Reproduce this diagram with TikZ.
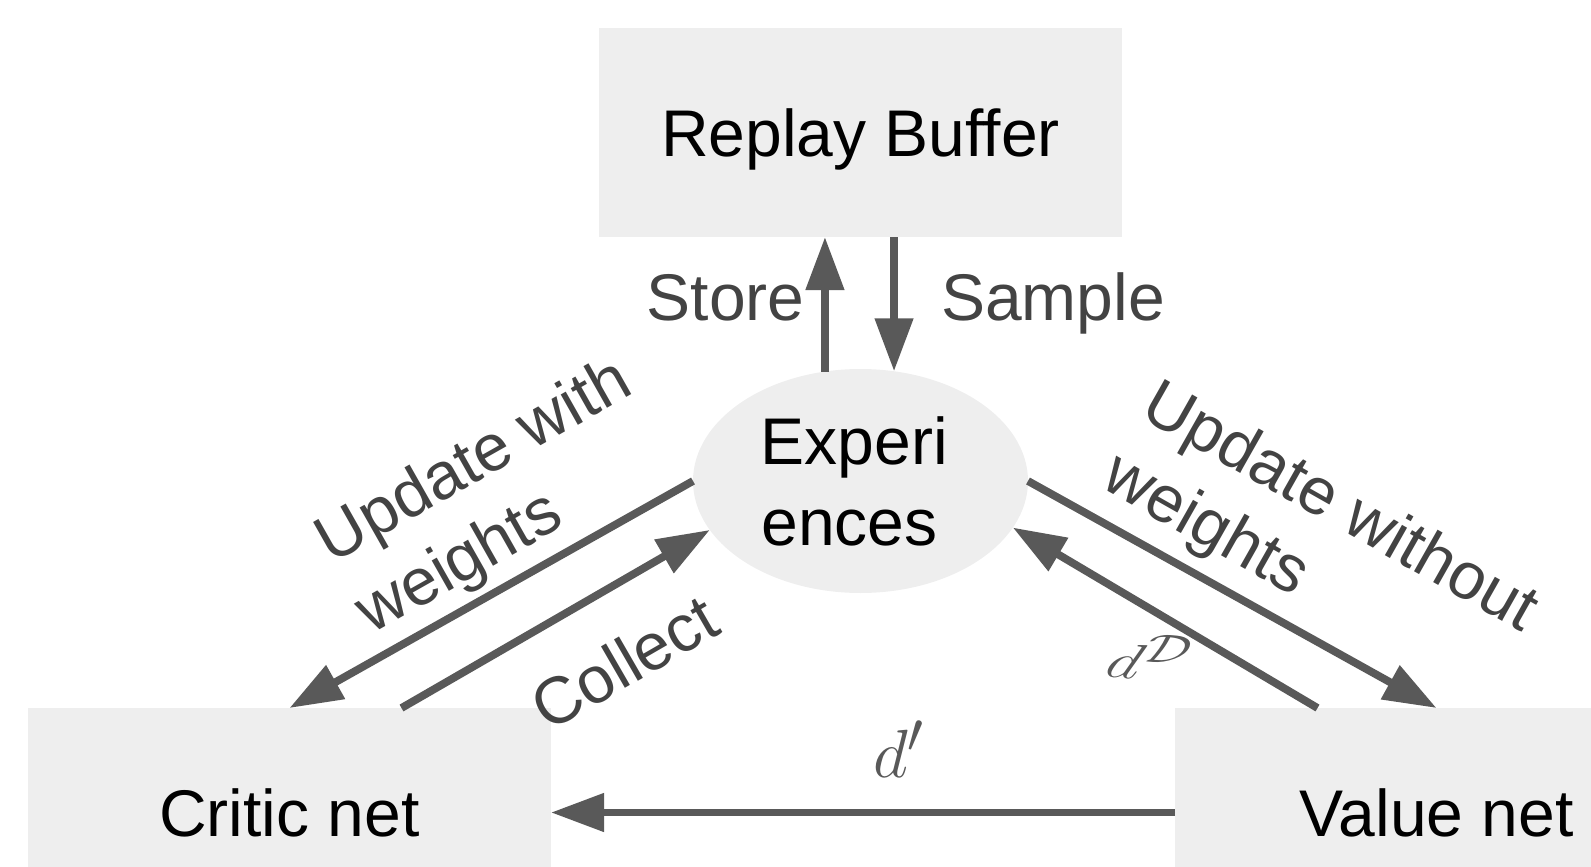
\documentclass[tikz,border=0pt]{standalone}
\usepackage[no-math]{fontspec}
\setmainfont{Liberation Sans}
\usetikzlibrary{arrows.meta,shapes.geometric,calc}
\definecolor{boxfill}{HTML}{EEEEEE}
\definecolor{arrowcol}{HTML}{595959}
\definecolor{labelcol}{HTML}{434343}
\begin{document}
\begin{tikzpicture}[x=0.5pt,y=0.5pt,
  box/.style={rectangle, fill=boxfill, minimum width=261.5pt, minimum height=104.5pt,
    inner sep=0pt, outer sep=0pt, text height=23.6pt, text depth=0pt,
    font=\fontsize{33}{40.5}\selectfont, text=black},
  blob/.style={ellipse, fill=boxfill, minimum width=167.5pt, minimum height=112pt,
    inner sep=0pt, outer sep=0pt, align=center, font=\fontsize{33}{40.5}\selectfont, text=black},
  arr/.style={draw=arrowcol, line width=3.9pt, -{Triangle[length=26.5pt,width=18.5pt]}, fill=arrowcol},
  lbl/.style={text=labelcol, inner sep=0pt, font=\fontsize{33}{40.5}\selectfont},
  mlbl/.style={text=arrowcol, inner sep=0pt, font=\fontsize{24.88}{30}\selectfont}
]
\useasboundingbox (0,0) rectangle (1591,-867);
% nodes
\node[box] (rb) at (860.5,-132.5) {Replay Buffer};
\node[blob] (exp) at (860.5,-481) {\makebox[0pt]{Experi\hspace*{6pt}}\\\makebox[0pt]{ences\hspace*{11pt}}};
\node[box] (cn) at (289.5,-812.5) {Critic net};
\node[box] (vn) at (1436.5,-812.5) {Value net};
% connectors
\draw[arr] (exp.108) -- (exp.108 |- rb.south);
\draw[arr] (exp.73 |- rb.south) -- (exp.73);
\draw[arr] (exp.west) -- (cn.north);
\draw[arr] ($(cn.north)+(112,0)$) -- (exp.198);
\draw[arr] (exp.east) -- (vn.north);
\draw[arr] ($(vn.north)+(-119,0)$) -- (exp.-17);
\draw[arr] (vn.west) -- (cn.east);
% labels
\node[lbl, anchor=base] (store) at (725.5,-320) {Store};
\node[lbl, anchor=base] (sample) at (1053,-320) {Sample};
\node[lbl, align=left, rotate=29.5] (uw) at (495,-499) {Update with\\weights};
\node[lbl, align=left, rotate=-29.5] (uwo) at (1319,-545) {Update without\\weights};
\node[lbl, rotate=30] (col) at (624,-662) {Collect};
\node[mlbl, scale=1.37] (dp) at (899,-749) {$d'$};
\node[mlbl, rotate=-5, xscale=1.3, xslant=0.2] (dd) at (1150,-657) {$d^{\mathcal{D}}$};
\end{tikzpicture}
\end{document}
